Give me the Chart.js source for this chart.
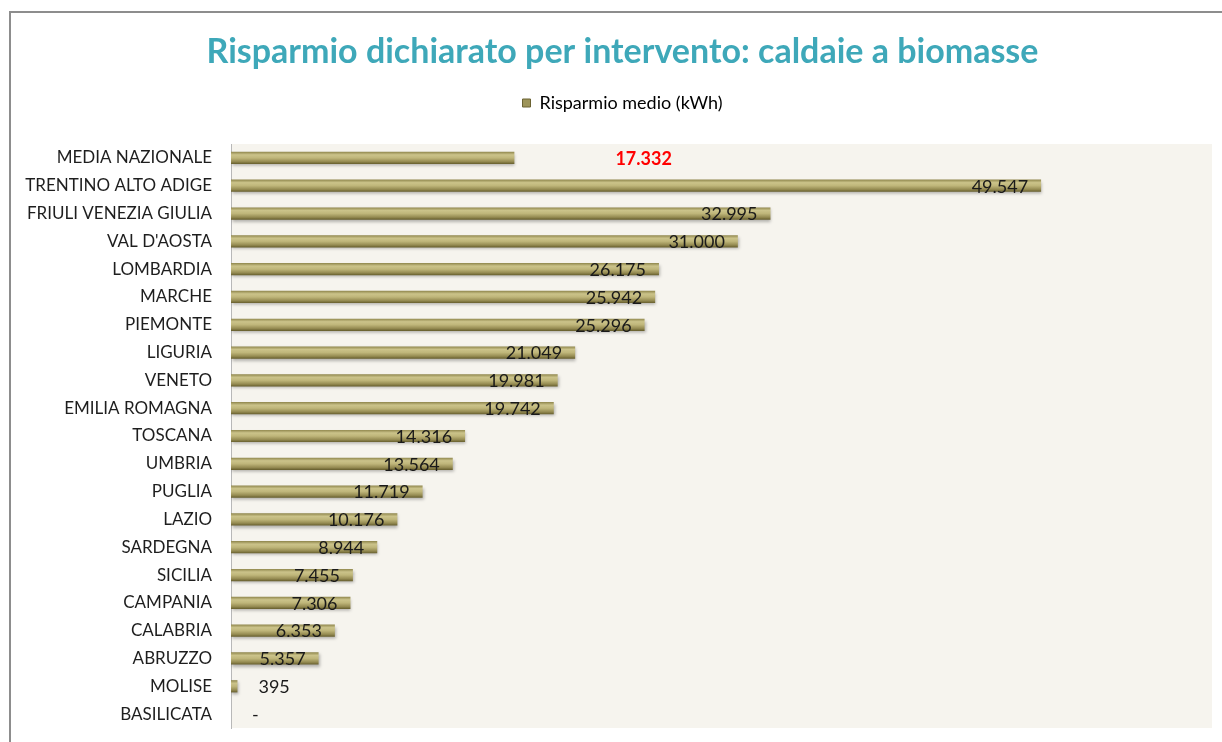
<!DOCTYPE html>
<html>
<head>
<meta charset="utf-8">
<script src="https://cdn.jsdelivr.net/npm/chart.js@4/dist/chart.umd.min.js"></script>
<style>
  html, body { margin: 0; padding: 0; background: #ffffff; }
  #wrap { position: relative; width: 1222px; height: 742px; }
  #frame { position: absolute; left: 9px; top: 11px; width: 1213px; height: 731px;
           border-top: 2px solid #8d8d8d; border-left: 2px solid #8d8d8d; pointer-events: none; box-sizing: border-box; }
  canvas { position: absolute; left: 0; top: 0; }
</style>
</head>
<body>
<div id="wrap">
  <canvas id="c" width="1222" height="742"></canvas>
  <div id="frame"></div>
</div>
<script>
const chartTitle = 'Risparmio dichiarato per intervento: caldaie a biomasse';
const seriesName = 'Risparmio medio (kWh)';
const categories = [
  'MEDIA NAZIONALE', 'TRENTINO ALTO ADIGE', 'FRIULI VENEZIA GIULIA', "VAL D'AOSTA",
  'LOMBARDIA', 'MARCHE', 'PIEMONTE', 'LIGURIA', 'VENETO', 'EMILIA ROMAGNA',
  'TOSCANA', 'UMBRIA', 'PUGLIA', 'LAZIO', 'SARDEGNA', 'SICILIA', 'CAMPANIA',
  'CALABRIA', 'ABRUZZO', 'MOLISE', 'BASILICATA'
];
const values = [
  17332, 49547, 32995, 31000, 26175, 25942, 25296, 21049, 19981, 19742,
  14316, 13564, 11719, 10176, 8944, 7455, 7306, 6353, 5357, 395, 0
];
const highlightCategory = 'MEDIA NAZIONALE';
const axisMin = 0;
const axisMax = 60000;

function fmt(v) {
  if (v === 0) return '-';
  return String(v).replace(/\B(?=(\d{3})+(?!\d))/g, '.');
}

const plotBg = {
  id: 'plotBg',
  beforeDraw(chart) {
    const {ctx, chartArea: a} = chart;
    ctx.save();
    ctx.fillStyle = '#f6f4ee';
    ctx.fillRect(a.left, a.top, a.right - a.left, a.bottom - a.top);
    ctx.restore();
  }
};

const barStyle = {
  id: 'barStyle',
  beforeDatasetsDraw(chart) {
    const ctx = chart.ctx;
    const meta = chart.getDatasetMeta(0);
    meta.data.forEach(el => {
      const p = el.getProps(['y', 'height'], true);
      const t = p.y - p.height / 2, b = p.y + p.height / 2;
      const g = ctx.createLinearGradient(0, t, 0, b);
      g.addColorStop(0, '#8f864c');
      g.addColorStop(0.25, '#cbc38a');
      g.addColorStop(0.5, '#bfb67a');
      g.addColorStop(0.8, '#958b52');
      g.addColorStop(1, '#655d2c');
      el.options = Object.assign({}, el.options, {backgroundColor: g});
    });
  },
  beforeDatasetDraw(chart) {
    const ctx = chart.ctx;
    ctx.save();
    ctx.shadowColor = 'rgba(0,0,0,0.28)';
    ctx.shadowBlur = 3;
    ctx.shadowOffsetX = 1;
    ctx.shadowOffsetY = 2;
  },
  afterDatasetDraw(chart) {
    chart.ctx.restore();
  }
};

const valueLabels = {
  id: 'valueLabels',
  afterDatasetsDraw(chart) {
    const ctx = chart.ctx;
    const meta = chart.getDatasetMeta(0);
    const ds = chart.data.datasets[0].data;
    const labels = chart.data.labels;
    ctx.save();
    ctx.textBaseline = 'middle';
    meta.data.forEach((el, i) => {
      const v = ds[i];
      const x = el.x, y = el.y + 1;
      if (labels[i] === highlightCategory) {
        ctx.font = 'bold 18px Lato, "Open Sans", sans-serif';
        ctx.fillStyle = '#ff0000';
        ctx.textAlign = 'left';
        ctx.fillText(fmt(v), x + 101, y);
      } else if (v < 2000) {
        ctx.font = '18px Lato, "Open Sans", sans-serif';
        ctx.fillStyle = '#1a1a1a';
        ctx.textAlign = 'left';
        ctx.fillText(fmt(v), x + 21, y);
      } else {
        ctx.font = '18px Lato, "Open Sans", sans-serif';
        ctx.fillStyle = '#1a1a1a';
        ctx.textAlign = 'right';
        ctx.fillText(fmt(v), x - 13, y);
      }
    });
    ctx.restore();
  }
};

new Chart(document.getElementById('c'), {
  type: 'bar',
  data: {
    labels: categories,
    datasets: [{
      label: seriesName,
      data: values,
      backgroundColor: () => '#aea364',
      borderWidth: 0,
      barPercentage: 0.44,
      categoryPercentage: 1.0
    }]
  },
  options: {
    indexAxis: 'y',
    responsive: false,
    animation: false,
    events: [],
    layout: { padding: { top: 12, left: 23, right: 0, bottom: 14 } },
    scales: {
      x: {
        position: 'top',
        min: axisMin, max: axisMax,
        display: true,
        ticks: { display: false },
        grid: { display: false },
        border: { display: false },
        afterFit(s) { s.height = 22; s.paddingLeft = 0; s.paddingRight = 0; }
      },
      y: {
        grid: { display: false, drawTicks: false },
        border: { display: true, color: '#b8b8b8', width: 1 },
        ticks: {
          padding: 19,
          color: '#1e1e1e',
          font: { family: 'Lato, "Open Sans", sans-serif', size: 17 }
        },
        afterFit(s) { s.width = 208; s.paddingTop = 0; s.paddingBottom = 0; }
      },
      yRight: {
        type: 'category',
        position: 'right',
        display: true,
        ticks: { display: false },
        grid: { display: false },
        border: { display: false },
        afterFit(s) { s.width = 10; s.paddingTop = 0; s.paddingBottom = 0; }
      }
    },
    plugins: {
      title: {
        display: true,
        text: chartTitle,
        color: '#3ea8b9',
        font: { family: 'Lato, "Open Sans", sans-serif', size: 34, weight: 'bold', lineHeight: 1.2 },
        padding: { top: 20.1, bottom: 11.1 }
      },
      legend: {
        display: true,
        position: 'top',
        labels: {
          boxWidth: 8,
          boxHeight: 8,
          padding: 10,
          color: '#1e1e1e',
          font: { family: 'Lato, "Open Sans", sans-serif', size: 18 },
          generateLabels() {
            return [{ text: seriesName, fillStyle: '#9d9459', strokeStyle: '#6b6333', lineWidth: 1, hidden: false, datasetIndex: 0 }];
          }
        }
      },
      tooltip: { enabled: false }
    }
  },
  plugins: [plotBg, barStyle, valueLabels]
});
</script>
</body>
</html>
